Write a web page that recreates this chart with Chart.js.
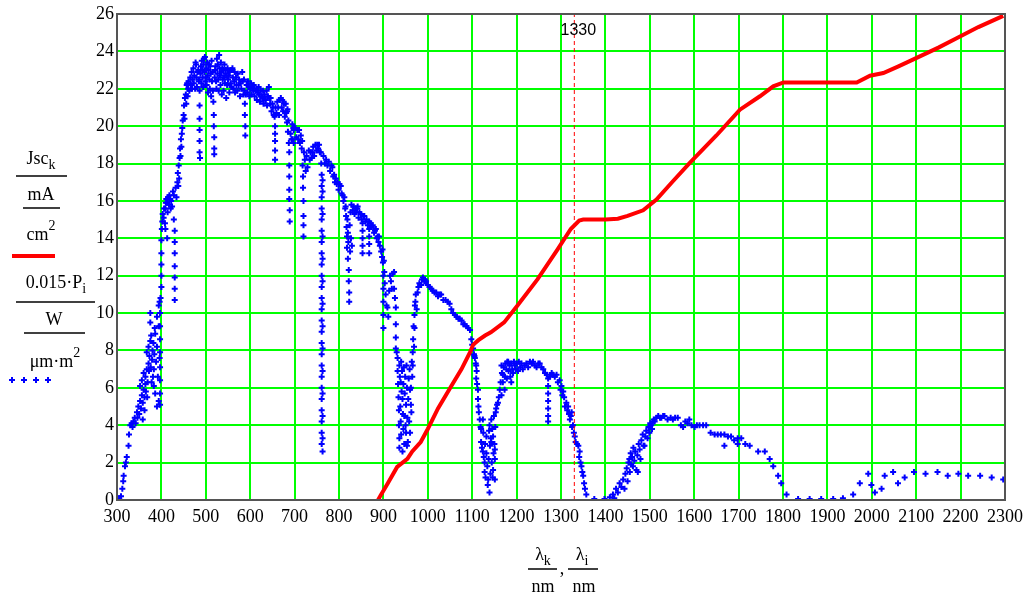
<!DOCTYPE html>
<html>
<head>
<meta charset="utf-8">
<script src="https://cdn.jsdelivr.net/npm/chart.js@4"></script>
<style>
  body { margin: 0; background: #fff; }
  canvas { display: block; }
</style>
</head>
<body>
<canvas id="chart" width="1030" height="597"></canvas>
<script>
// red curve: Jsc(lambda), mA/cm2
const jscNm = [888, 894, 910, 931, 954, 965, 984, 1000, 1023, 1053, 1076, 1095, 1102, 1114, 1129, 1142,
    1172, 1202, 1247, 1292, 1322, 1341, 1350, 1400, 1428, 1450, 1485, 1515, 1550, 1590, 1650, 1703,
    1748, 1778, 1801, 1850, 1900, 1966, 1996, 2026, 2060, 2101, 2150, 2191, 2240, 2296];
const jscVal = [0, 0.26, 0.9, 1.77, 2.2, 2.6, 3.1, 3.8, 4.9, 6.1, 7.0, 7.9, 8.3, 8.55, 8.8, 8.97,
    9.5, 10.4, 11.8, 13.4, 14.5, 14.95, 15.0, 15.0, 15.05, 15.2, 15.5, 16.07, 17.0, 18.03, 19.5, 20.88,
    21.6, 22.13, 22.34, 22.34, 22.34, 22.34, 22.7, 22.84, 23.2, 23.65, 24.2, 24.7, 25.3, 25.9];

// blue points: 0.015*P(lambda), [nm, value]
const uvBand = [
    [305, 0.1], [309, 0.2], [312, 0.6], [314, 1.0], [315, 1.3], [318, 1.8], [320, 2.0], [322, 2.3],
    [326, 2.9], [327, 3.5], [330, 4.0], [333, 4.1], [335, 3.9], [337, 4.2], [340, 4.4], [342, 4.1],
    [345, 4.7], [346, 4.4], [348, 5.0], [350, 4.6], [352, 5.3], [352, 6.1], [354, 4.9], [356, 5.6],
    [356, 6.4], [358, 5.2], [358, 4.3], [360, 5.9], [360, 6.8], [362, 5.5], [362, 4.8], [364, 6.2],
    [364, 6.6], [365, 5.8], [367, 7.0], [367, 7.9], [368, 5.5], [369, 6.3], [371, 7.3], [371, 8.2],
    [372, 6.9], [373, 7.7], [375, 8.5], [375, 9.5], [375, 10.0], [376, 7.1], [377, 8.8], [378, 6.3],
    [379, 7.5], [380, 8.0], [381, 6.6], [382, 8.4], [383, 7.0], [383, 6.1], [384, 7.8], [385, 9.2],
    [386, 5.7], [386, 8.9], [388, 7.4], [390, 5.0], [390, 8.2], [390, 9.8], [392, 6.6], [394, 5.3],
    [394, 9.3], [394, 10.4], [396, 10.6], [396, 7.6], [397, 10.0], [397, 9.3], [397, 8.6], [397, 7.9],
    [397, 7.1], [397, 6.4], [397, 5.7], [397, 5.1], [398, 10.8]
];
const blueBand = [
    [400, 11.4], [400, 12.0], [400, 12.6], [400, 13.2], [400, 13.9], [401, 14.5], [402, 14.9], [403, 15.3],
    [405, 15.1], [406, 15.6], [408, 14.8], [409, 15.6], [409, 14.5], [410, 15.9], [411, 16.1], [413, 15.9],
    [413, 14.0], [414, 15.4], [415, 16.2], [417, 15.8], [418, 16.3], [420, 16.1], [421, 15.6], [422, 16.0],
    [424, 15.7], [426, 16.5], [428, 15.0], [428, 16.3], [430, 14.4], [430, 13.8], [430, 13.2], [430, 12.5],
    [430, 11.9], [430, 11.3], [430, 10.7], [432, 16.7], [434, 16.2], [436, 17.0], [437, 17.5], [438, 16.8],
    [439, 17.9], [440, 17.2], [441, 18.3], [442, 18.8], [443, 18.4], [444, 19.3], [445, 18.9], [446, 19.6],
    [447, 19.9], [448, 20.3], [450, 20.6], [451, 21.1], [452, 20.4], [453, 21.5], [455, 21.7], [456, 21.2],
    [457, 22.2], [458, 22.3], [459, 21.6], [460, 22.0]
];
const greenBand = [
    [461, 22.4], [463, 21.9], [465, 22.6], [466, 22.2], [468, 22.9], [469, 22.0], [470, 22.5], [472, 23.1],
    [473, 22.3], [474, 22.7], [476, 22.0], [477, 23.4], [478, 23.3], [479, 22.6], [480, 22.1], [481, 22.9],
    [483, 23.0], [484, 22.4], [485, 22.5], [486, 21.9], [486, 21.1], [486, 20.4], [486, 19.8], [486, 19.2],
    [486, 18.6], [487, 18.3], [488, 22.8], [489, 23.2], [490, 22.3], [491, 23.5], [492, 23.0], [493, 22.6],
    [494, 22.1], [495, 23.3], [496, 23.6], [497, 22.9], [498, 23.7], [499, 22.4], [500, 22.6], [501, 23.1],
    [502, 22.2], [503, 23.4], [504, 22.7], [505, 21.8], [506, 23.0], [507, 23.3], [508, 22.5], [509, 22.0],
    [510, 23.2], [511, 22.8], [512, 21.6], [513, 23.5], [514, 22.4], [515, 22.9], [516, 21.9], [517, 21.3],
    [518, 20.6], [518, 20.0], [519, 19.4], [519, 18.8], [519, 18.5], [520, 22.6], [521, 23.0], [522, 23.2],
    [523, 22.4], [524, 22.0], [525, 23.6], [526, 22.8], [527, 23.3], [528, 22.5], [529, 21.9], [530, 23.8],
    [531, 23.1], [532, 22.7], [533, 22.2], [534, 23.4], [535, 22.9], [536, 21.7], [537, 23.1], [538, 22.5],
    [539, 23.0], [540, 21.9], [541, 22.6], [542, 23.3], [543, 22.3], [544, 22.8], [545, 23.0], [546, 21.5],
    [547, 22.7], [548, 22.2], [549, 23.1], [550, 22.5], [552, 22.7], [553, 21.8], [554, 22.9], [556, 22.3],
    [557, 23.0], [558, 22.1], [560, 23.1], [561, 22.6], [562, 22.0], [564, 22.4], [565, 22.9], [566, 21.8],
    [568, 22.6], [569, 22.2], [571, 21.9], [572, 22.8], [574, 22.2], [575, 22.5], [577, 21.6], [578, 22.3],
    [580, 22.0], [582, 22.9], [583, 22.4], [585, 21.7], [586, 22.5], [587, 21.9], [588, 21.2], [588, 20.6],
    [589, 20.0], [589, 19.5], [590, 21.7], [592, 22.2], [594, 21.8], [595, 22.4], [597, 22.1], [598, 21.6],
    [600, 22.0]
];
const redBand = [
    [602, 22.3], [603, 21.7], [605, 22.1], [607, 21.9], [608, 22.2], [610, 21.6], [612, 21.9], [614, 22.0],
    [615, 21.4], [617, 21.8], [619, 22.1], [620, 21.7], [622, 21.3], [624, 21.9], [625, 21.6], [627, 21.5],
    [629, 21.9], [630, 21.2], [632, 21.7], [634, 21.4], [635, 21.4], [637, 21.9], [638, 21.1], [640, 21.6],
    [642, 22.1], [643, 21.5], [645, 21.2], [646, 21.5], [648, 20.8], [650, 21.2], [651, 21.0], [653, 20.6],
    [655, 20.5], [656, 20.0], [656, 19.6], [656, 19.2], [656, 18.7], [656, 18.2], [657, 21.0], [659, 20.7],
    [661, 21.3], [663, 21.0], [665, 20.6], [667, 21.4], [669, 21.5], [671, 21.0], [672, 21.4], [674, 20.8],
    [676, 21.2], [678, 20.5], [680, 21.2], [681, 20.7], [683, 20.8], [683, 20.2], [684, 20.9], [685, 19.7],
    [686, 20.3], [687, 19.1], [688, 18.6], [688, 17.9], [688, 17.3], [688, 16.6], [688, 16.1], [689, 15.5],
    [689, 14.9], [691, 19.6], [693, 19.3], [695, 20.1], [695, 19.3], [697, 19.9], [698, 19.8], [698, 19.1],
    [700, 19.9], [702, 19.9], [704, 19.4], [706, 19.8], [708, 19.3], [710, 19.8], [712, 19.1], [714, 19.5],
    [716, 18.8], [717, 19.2], [718, 17.9], [719, 17.3], [719, 16.7], [720, 16.0], [720, 15.2], [720, 14.7],
    [720, 14.1], [721, 18.6], [723, 18.2], [725, 17.6], [727, 18.4], [729, 17.8], [732, 18.7], [734, 18.2],
    [736, 18.6], [738, 18.3], [740, 18.6], [742, 18.9], [744, 18.4], [747, 19.0], [749, 18.7], [751, 19.0],
    [753, 18.8], [755, 19.0], [757, 18.6], [759, 18.6], [760, 18.0]
];
const oxygenBand = [
    [761, 17.4], [761, 16.8], [761, 16.2], [761, 15.6], [761, 15.0], [761, 14.4], [761, 13.8], [761, 13.2],
    [761, 12.6], [761, 12.0], [761, 11.4], [761, 10.8], [761, 10.2], [761, 9.6], [761, 9.0], [761, 8.4],
    [761, 7.8], [761, 7.2], [761, 6.6], [761, 6.0], [761, 5.4], [761, 4.8], [761, 4.2], [761, 3.6],
    [761, 3.0], [763, 17.1], [763, 16.5], [763, 15.3], [763, 14.1], [763, 12.9], [763, 11.7], [763, 10.5],
    [763, 9.3], [763, 8.1], [763, 6.9], [763, 5.7], [763, 4.5], [763, 3.3], [763, 2.6]
];
const nearIrBand = [
    [765, 18.4], [768, 18.0], [771, 18.2], [774, 17.9], [777, 18.1], [780, 17.6], [783, 17.9], [785, 17.8],
    [787, 17.3], [789, 17.4], [791, 17.0], [793, 17.2], [795, 16.9], [797, 17.0], [799, 16.6], [801, 16.9],
    [804, 16.8], [806, 16.4], [808, 16.3], [810, 16.0], [812, 16.2], [814, 15.6], [815, 15.7], [816, 15.2],
    [817, 14.6], [818, 14.1], [818, 13.5], [819, 15.0], [820, 14.3], [820, 12.9], [821, 13.8], [822, 12.3],
    [822, 11.7], [823, 11.1], [823, 10.6], [824, 14.7], [825, 13.3], [826, 15.4], [827, 14.0], [828, 15.8],
    [829, 13.6], [831, 15.5], [833, 15.7], [835, 15.3], [837, 15.6], [839, 15.4], [841, 15.6], [842, 15.7],
    [844, 15.1], [846, 15.4], [849, 15.3], [851, 15.0], [853, 14.8], [853, 14.4], [853, 14.0], [853, 13.6],
    [853, 13.2], [855, 15.2], [857, 15.2], [860, 14.9], [862, 15.0], [865, 14.7], [868, 14.9], [868, 14.5],
    [868, 14.1], [868, 13.7], [868, 13.2], [871, 14.8], [874, 14.6], [876, 14.7], [879, 14.3], [881, 14.4],
    [883, 14.5], [885, 14.0], [887, 14.1], [889, 13.8], [890, 14.1], [892, 13.6], [895, 13.3], [897, 13.0],
    [899, 12.7]
];
const water940Band = [
    [898, 13.4], [900, 12.0], [900, 11.3], [900, 10.6], [900, 9.9], [900, 9.2], [901, 12.8], [902, 12.2],
    [903, 11.6], [905, 11.0], [907, 10.4], [909, 10.3], [911, 9.8], [913, 11.2], [915, 12.0], [917, 11.7],
    [919, 11.3], [921, 12.1], [924, 12.2], [924, 11.3], [926, 10.8], [928, 10.3], [928, 9.4], [928, 8.7],
    [928, 8.1], [930, 7.9], [932, 7.6], [932, 6.9], [933, 6.2], [934, 5.5], [935, 4.8], [935, 4.0],
    [936, 7.2], [936, 3.3], [936, 2.8], [937, 6.6], [938, 5.0], [939, 6.3], [939, 4.2], [940, 7.4],
    [940, 3.5], [941, 5.8], [942, 6.9], [943, 5.4], [943, 2.6], [944, 4.6], [945, 6.2], [945, 3.8],
    [946, 7.1], [947, 4.5], [947, 3.0], [948, 5.7], [949, 6.6], [950, 4.0], [951, 3.6], [951, 5.1],
    [952, 7.2], [953, 6.0], [953, 2.9], [954, 4.4], [955, 3.1], [956, 5.4], [957, 6.5], [958, 4.2],
    [959, 7.0], [960, 3.6], [960, 5.9], [962, 5.1], [962, 6.0], [963, 4.7], [964, 7.4], [965, 6.6],
    [966, 7.2], [966, 7.9], [967, 8.6], [968, 9.3], [969, 8.2], [970, 9.2], [970, 9.9], [971, 10.4],
    [972, 10.6], [973, 11.0], [975, 10.2], [977, 11.1], [979, 11.4], [981, 11.6], [983, 11.5], [985, 11.5],
    [987, 11.8], [989, 11.9], [992, 11.7], [994, 11.8], [996, 11.7], [1000, 11.5], [1004, 11.4], [1008, 11.3],
    [1011, 11.2], [1015, 11.1], [1019, 11.1], [1023, 10.9], [1027, 11.0], [1030, 11.0], [1035, 10.7], [1040, 10.7],
    [1045, 10.6], [1049, 10.5], [1053, 10.2], [1057, 10.0], [1061, 9.9], [1065, 9.8], [1069, 9.7], [1072, 9.7],
    [1076, 9.6], [1080, 9.4], [1083, 9.4], [1087, 9.3], [1091, 9.2], [1095, 9.1], [1098, 8.6], [1100, 8.3],
    [1102, 8.1], [1104, 7.8], [1106, 7.6], [1108, 7.3]
];
const water1130Band = [
    [1105, 7.7], [1109, 7.2], [1109, 6.5], [1110, 6.9], [1111, 6.2], [1113, 5.9], [1113, 5.4], [1114, 5.0],
    [1115, 4.7], [1117, 4.3], [1119, 3.9], [1120, 3.8], [1120, 3.1], [1122, 2.8], [1124, 4.3], [1124, 2.6],
    [1125, 3.6], [1126, 2.3], [1128, 2.0], [1128, 1.5], [1129, 3.0], [1130, 1.2], [1132, 3.4], [1132, 2.5],
    [1134, 1.8], [1135, 0.8], [1136, 1.1], [1137, 2.2], [1138, 3.7], [1139, 0.4], [1139, 4.0], [1140, 2.9],
    [1141, 1.4], [1142, 3.3], [1143, 4.3], [1143, 3.1], [1144, 2.0], [1145, 3.8], [1146, 1.2], [1147, 3.4],
    [1147, 1.6], [1148, 2.5], [1149, 4.5], [1150, 3.0], [1151, 2.7], [1151, 2.2], [1151, 1.1], [1152, 3.9],
    [1153, 4.7], [1154, 4.9], [1156, 5.1], [1158, 5.2], [1160, 5.5], [1162, 5.9], [1164, 6.3], [1166, 5.6],
    [1166, 7.2], [1167, 6.8], [1169, 6.3], [1169, 6.7], [1171, 7.1], [1173, 5.9], [1174, 6.6], [1175, 7.3],
    [1177, 7.0], [1178, 6.5], [1179, 7.4], [1181, 7.4], [1182, 6.9], [1184, 7.2], [1186, 6.6], [1188, 7.3],
    [1188, 6.3], [1190, 7.0], [1192, 6.8], [1194, 7.4], [1196, 7.2], [1198, 7.0], [1200, 7.3], [1203, 6.9],
    [1205, 7.4], [1208, 7.1], [1211, 7.3], [1214, 7.0], [1218, 7.2], [1222, 7.3], [1226, 7.1], [1230, 7.4],
    [1234, 7.3], [1237, 7.4], [1241, 7.2], [1245, 7.1], [1249, 7.3], [1252, 7.3], [1256, 7.1], [1260, 7.0],
    [1264, 6.8], [1268, 6.7], [1271, 6.5], [1271, 6.1], [1271, 5.7], [1271, 5.3], [1271, 4.9], [1271, 4.5],
    [1271, 4.2], [1275, 6.6], [1279, 6.8], [1282, 6.7], [1286, 6.6], [1290, 6.7], [1293, 6.3], [1297, 6.4],
    [1299, 5.9], [1301, 6.1], [1303, 5.6], [1305, 5.8], [1307, 5.5], [1309, 5.0], [1312, 5.2], [1314, 4.8],
    [1316, 5.0], [1318, 4.6], [1320, 4.3], [1322, 4.5], [1324, 4.7], [1325, 3.9], [1327, 4.0], [1329, 3.6],
    [1331, 3.4], [1333, 3.1], [1336, 3.0], [1339, 2.9], [1341, 2.3], [1342, 2.6], [1344, 2.0], [1346, 1.8],
    [1348, 1.5], [1350, 1.3], [1352, 0.9], [1354, 0.6], [1357, 0.3]
];
const swirBand = [
    [1375, 0.05], [1398, 0.05], [1410, 0.15], [1417, 0.3], [1420, 0.1], [1424, 0.6], [1428, 0.4], [1432, 0.9],
    [1436, 0.7], [1440, 1.1], [1443, 0.6], [1445, 1.4], [1448, 1.7], [1450, 1.0], [1452, 2.0], [1454, 2.2],
    [1455, 1.5], [1457, 2.5], [1458, 1.9], [1460, 2.3], [1462, 1.8], [1463, 2.8], [1465, 2.1], [1467, 2.6],
    [1470, 1.6], [1472, 2.4], [1473, 1.5], [1475, 3.0], [1477, 2.7], [1479, 2.2], [1481, 3.2], [1484, 3.5],
    [1486, 2.9], [1488, 2.9], [1490, 3.4], [1492, 3.7], [1495, 3.3], [1497, 3.9], [1499, 3.6], [1501, 4.1],
    [1503, 4.0], [1505, 3.8], [1507, 4.2], [1509, 4.3], [1511, 4.2], [1515, 4.4], [1519, 4.5], [1523, 4.4],
    [1526, 4.4], [1530, 4.5], [1533, 4.5], [1540, 4.3], [1547, 4.4], [1552, 4.3], [1557, 4.4], [1563, 4.4],
    [1570, 4.0], [1575, 3.9], [1580, 4.2], [1585, 4.1], [1589, 4.3], [1594, 4.0], [1601, 3.9], [1606, 4.0],
    [1612, 4.0], [1620, 4.0], [1627, 4.0], [1637, 3.6], [1646, 3.5], [1653, 3.5], [1660, 3.5], [1668, 3.5],
    [1668, 2.9], [1676, 3.4], [1683, 3.4], [1690, 3.2], [1698, 3.3], [1698, 3.0], [1706, 3.3], [1715, 3.0],
    [1725, 2.9], [1744, 2.6], [1759, 2.6], [1770, 2.2], [1778, 1.8], [1789, 1.3], [1796, 0.9], [1808, 0.3],
    [1834, 0.05], [1860, 0.05], [1886, 0.05], [1913, 0.05], [1935, 0.1], [1958, 0.3], [1973, 0.9], [1992, 1.4],
    [1999, 0.8], [2007, 0.4], [2022, 0.6], [2029, 1.3], [2048, 1.5], [2059, 0.9], [2074, 1.2], [2095, 1.5],
    [2121, 1.4], [2148, 1.5], [2171, 1.3], [2195, 1.4], [2217, 1.3], [2244, 1.3], [2270, 1.2], [2296, 1.1]
];

const markerNm = 1330;
const xMin = 300, xMax = 2300, xStep = 100;
const yMin = 0, yMax = 26, yStep = 2;

const spectrum = [].concat(uvBand, blueBand, greenBand, redBand, oxygenBand,
    nearIrBand, water940Band, water1130Band, swirBand);

const SERIF = '"Liberation Serif", "Times New Roman", serif';
Chart.defaults.font.family = SERIF;
Chart.defaults.color = '#000';

// writes text with sub/superscripts, centred on cx
function mathText(ctx, parts, cx, base) {
    let w = 0;
    parts.forEach(p => {
        ctx.font = (p[1] ? '14px ' : '18px ') + SERIF;
        w += ctx.measureText(p[0]).width;
    });
    let x = cx - w / 2;
    ctx.textAlign = 'left';
    ctx.textBaseline = 'alphabetic';
    parts.forEach(p => {
        ctx.font = (p[1] ? '14px ' : '18px ') + SERIF;
        const dy = p[1] === 'sub' ? 5 : (p[1] === 'sup' ? -10 : 0);
        ctx.fillText(p[0], x, base + dy);
        x += ctx.measureText(p[0]).width;
    });
}

function hline(ctx, x1, x2, y, color, width) {
    ctx.strokeStyle = color;
    ctx.lineWidth = width;
    ctx.beginPath();
    ctx.moveTo(x1, y);
    ctx.lineTo(x2, y);
    ctx.stroke();
}

const decorPlugin = {
    id: 'decor',
    afterDraw(chart) {
        const ctx = chart.ctx;
        const area = chart.chartArea;
        const xs = chart.scales.x;
        ctx.save();

        // frame
        ctx.strokeStyle = '#555';
        ctx.lineWidth = 2;
        ctx.strokeRect(area.left, area.top, area.right - area.left, area.bottom - area.top);

        // marker label
        ctx.fillStyle = '#000';
        ctx.font = '16px "Liberation Sans", Arial, sans-serif';
        ctx.textAlign = 'center';
        ctx.textBaseline = 'alphabetic';
        ctx.fillText(String(markerNm), xs.getPixelForValue(markerNm) + 4, area.top + 21);

        // y legend
        ctx.fillStyle = '#000';
        mathText(ctx, [['Jsc', ''], ['k', 'sub']], 41, 164);
        hline(ctx, 16, 67, 176, '#000', 1.5);
        mathText(ctx, [['mA', '']], 41, 200);
        hline(ctx, 23, 60, 208, '#000', 1.5);
        mathText(ctx, [['cm', ''], ['2', 'sup']], 41, 240);
        hline(ctx, 12, 55, 256, '#ff0000', 4);
        mathText(ctx, [['0.015\u00b7P', ''], ['i', 'sub']], 56, 288);
        hline(ctx, 16, 95, 302, '#000', 1.5);
        mathText(ctx, [['W', '']], 54, 325);
        hline(ctx, 24, 85, 333, '#000', 1.5);
        mathText(ctx, [['\u03bcm\u00b7m', ''], ['2', 'sup']], 55, 367);
        ctx.strokeStyle = '#0000ff';
        ctx.lineWidth = 2;
        [12, 24, 36, 48].forEach(px => {
            ctx.beginPath();
            ctx.moveTo(px - 3, 380); ctx.lineTo(px + 3, 380);
            ctx.moveTo(px, 377); ctx.lineTo(px, 383);
            ctx.stroke();
        });

        // x title
        ctx.fillStyle = '#000';
        mathText(ctx, [['\u03bb', ''], ['k', 'sub']], 543, 560);
        hline(ctx, 528, 557, 569, '#000', 1.5);
        mathText(ctx, [['nm', '']], 543, 592);
        mathText(ctx, [[',', '']], 562, 574);
        mathText(ctx, [['\u03bb', ''], ['i', 'sub']], 582, 560);
        hline(ctx, 568, 598, 569, '#000', 1.5);
        mathText(ctx, [['nm', '']], 584, 592);

        ctx.restore();
    }
};

const ctx = document.getElementById('chart').getContext('2d');
const chart = new Chart(ctx, {
    type: 'scatter',
    data: {
        datasets: [{
            label: 'Jsc',
            data: jscNm.map((x, i) => ({ x: x, y: jscVal[i] })),
            showLine: true,
            borderColor: '#ff0000',
            borderWidth: 4,
            pointRadius: 0,
            tension: 0,
            order: 0
        }, {
            label: 'marker',
            data: [{ x: markerNm, y: yMin }, { x: markerNm, y: yMax }],
            showLine: true,
            borderColor: '#ff0000',
            borderWidth: 1,
            borderDash: [4, 3],
            pointRadius: 0,
            order: 1
        }, {
            label: 'P',
            data: spectrum.map(p => ({ x: p[0], y: p[1] })),
            pointStyle: 'cross',
            pointRadius: 3,
            borderColor: '#0000ff',
            backgroundColor: '#0000ff',
            borderWidth: 2,
            order: 2
        }]
    },
    options: {
        responsive: false,
        animation: false,
        layout: { padding: { top: 14, right: 25, left: 0, bottom: 0 } },
        scales: {
            x: {
                type: 'linear',
                min: xMin,
                max: xMax,
                afterFit: (scale) => { scale.height = 97; },
                ticks: {
                    stepSize: xStep,
                    autoSkip: false,
                    maxRotation: 0,
                    padding: 6,
                    font: { size: 18 },
                    callback: (v) => String(v)
                },
                grid: { color: '#00ff00', lineWidth: 2, drawTicks: false },
                border: { display: false }
            },
            y: {
                min: yMin,
                max: yMax,
                afterFit: (scale) => { scale.width = 117; },
                ticks: {
                    stepSize: yStep,
                    padding: 3,
                    font: { size: 18 },
                    callback: (v) => String(v)
                },
                grid: { color: '#00ff00', lineWidth: 2, drawTicks: false },
                border: { display: false }
            }
        },
        plugins: {
            legend: { display: false },
            tooltip: { enabled: false }
        }
    },
    plugins: [decorPlugin]
});
</script>
</body>
</html>
